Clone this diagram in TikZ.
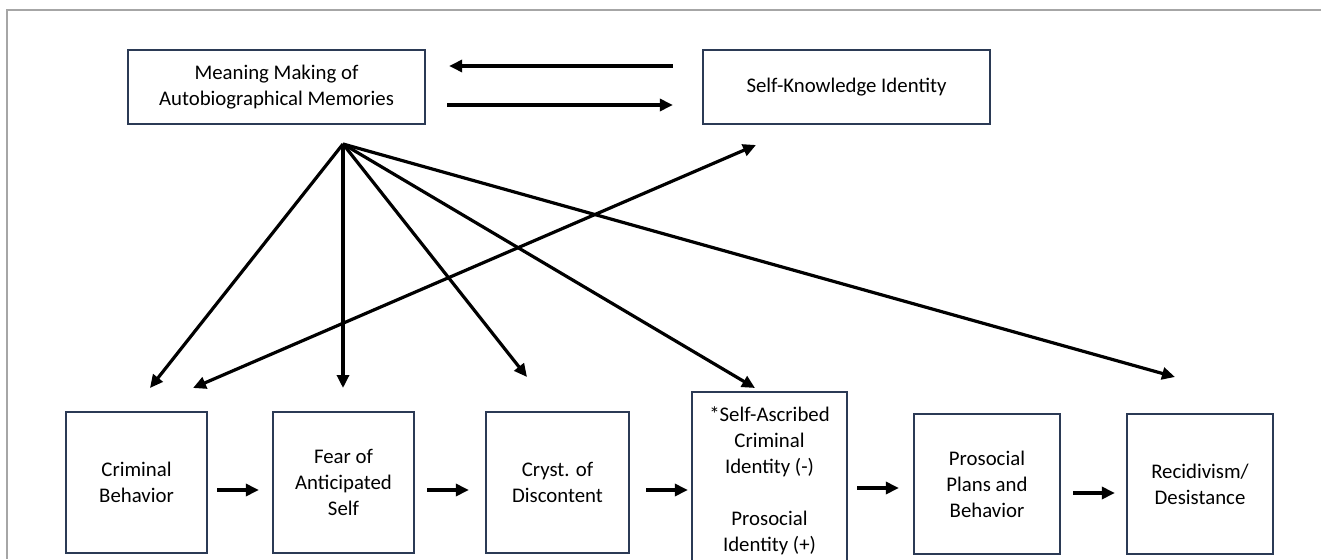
\documentclass[tikz,border=0pt]{standalone}
\usepackage{fontspec}
\setmainfont{Carlito}
\usetikzlibrary{arrows.meta,calc}
\definecolor{boxc}{HTML}{2B3A55}
\begin{document}
\begin{tikzpicture}[x=1pt,y=-1pt,
  box/.style={draw=boxc, line width=2.3pt, align=center, inner sep=0pt,
    font=\fontsize{20.8}{26}\selectfont},
  tip/.style={},
  arr/.style={line width=3.2pt, -{Triangle[length=13pt,width=12pt]}}]
\useasboundingbox (0,0) rectangle (1321,559);
\fill[white] (0,0) rectangle (1321,559);
\draw[black!35, line width=1.5pt] (1321,10) -- (7,10) -- (7,559);

\node[box, minimum width=297pt, minimum height=74pt] (mm) at (276.5,87) {Meaning Making of\\Autobiographical Memories};
\node[box, minimum width=287pt, minimum height=74pt] (sk) at (846.5,87) {Self-Knowledge Identity};

\node[box, minimum width=141pt, minimum height=141pt] (cb) at (136.5,482.5) {Criminal\\Behavior};
\node[box, minimum width=141pt, minimum height=141pt] (fa) at (343.5,482.5) {Fear of\\Anticipated\\Self};
\node[box, minimum width=143pt, minimum height=141pt] (cd) at (557.5,482.5) {Cryst. of\\Discontent};
\node[box, minimum width=155pt, minimum height=178pt] (sa) at (769.5,481) {*Self-Ascribed\\Criminal\\Identity (-)\\[26pt]Prosocial\\Identity (+)};
\node[box, minimum width=146pt, minimum height=140pt] (pp) at (987,484) {Prosocial\\Plans and\\Behavior};
\node[box, minimum width=146pt, minimum height=140pt] (rd) at (1200,484) {Recidivism/\\Desistance};

% top arrows
\draw[arr] ([xshift=-29pt,yshift=21pt]sk.west) -- ([xshift=23pt,yshift=21pt]mm.east);
\draw[arr] ([xshift=21pt,yshift=-18pt]mm.east) -- ([xshift=-29pt,yshift=-18pt]sk.west);

% fan from meaning making
\coordinate (apex) at (343,144);
\coordinate (e1) at (150,388);
\coordinate (e2) at (343,388);
\coordinate (e3) at (527,377);
\coordinate (e4) at (755,388);
\coordinate (e5) at (1175,377);
\coordinate (s0) at (193,388);
\coordinate (s1) at (756,145);
\draw[arr] (apex) -- (e1);
\draw[arr] (apex) -- (e2);
\draw[arr] (apex) -- (e3);
\draw[arr] (apex) -- (e4);
\draw[arr] (apex) -- (e5);
\draw[arr, {Triangle[length=13pt,width=12pt]}-{Triangle[length=13pt,width=12pt]}] (s0) -- (s1);

% chain arrows
\draw[arr] ([xshift=9pt,yshift=-7.5pt]cb.east) -- ([xshift=-13pt,yshift=-7.5pt]fa.west);
\draw[arr] ([xshift=12pt,yshift=-7.5pt]fa.east) -- ([xshift=-16pt,yshift=-7.5pt]cd.west);
\draw[arr] ([xshift=16pt,yshift=-7.5pt]cd.east) -- ([xshift=-3pt,yshift=-9pt]sa.west);
\draw[arr] ([xshift=9pt,yshift=-7pt]sa.east) -- ([xshift=-14pt,yshift=-4pt]pp.west);
\draw[arr] ([xshift=12pt,yshift=-9pt]pp.east) -- ([xshift=-11pt,yshift=-9pt]rd.west);
\end{tikzpicture}
\end{document}
